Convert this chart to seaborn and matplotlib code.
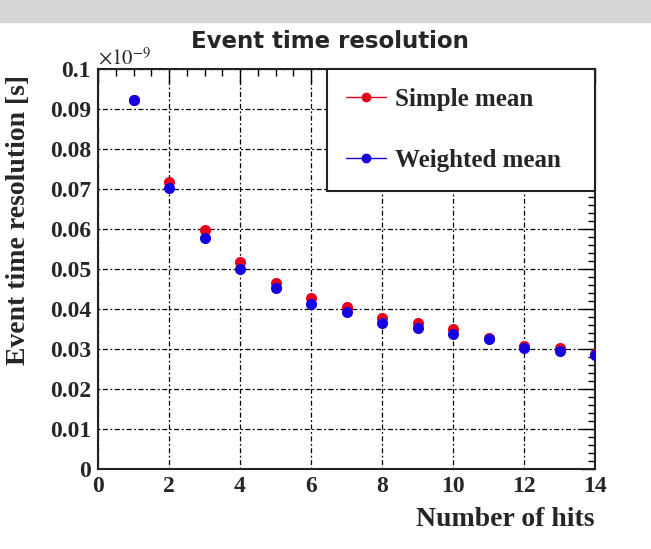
import matplotlib
matplotlib.use("Agg")
import matplotlib.pyplot as plt
from matplotlib.lines import Line2D
from matplotlib.ticker import MultipleLocator, FuncFormatter
import seaborn as sns
import pandas as pd

hits = [1, 2, 3, 4, 5, 6, 7, 8, 9, 10, 11, 12, 13, 14]
simple_mean = [0.0923, 0.0718, 0.0598, 0.0518, 0.0466, 0.0427, 0.0405, 0.0377,
               0.0364, 0.0349, 0.0327, 0.0308, 0.0302, 0.0288]
weighted_mean = [0.0923, 0.0702, 0.0578, 0.0499, 0.0452, 0.0412, 0.0393, 0.0364,
                 0.0352, 0.0338, 0.0324, 0.0303, 0.0296, 0.0286]
series_names = ["Simple mean", "Weighted mean"]
title = "Event time resolution"
xlabel = "Number of hits"
ylabel = "Event time resolution [s]"

sns.set_style("white")
plt.rcParams['font.family'] = ['Liberation Serif', 'DejaVu Serif']
plt.rcParams['mathtext.fontset'] = 'stix'

RED = "#e8001c"
BLUE = "#1400e0"

fig = plt.figure(figsize=(6.51, 5.49), dpi=100)
fig.patches.append(plt.Rectangle((0, 1 - 22/549), 1, 22/549, transform=fig.transFigure,
                                 color="#d6d6d6", zorder=0))
ax = fig.add_axes([98/651, 80/549, 497/651, 400/549])

df_s = pd.DataFrame({"hits": hits, "val": simple_mean})
df_w = pd.DataFrame({"hits": hits, "val": weighted_mean})
sns.lineplot(data=df_s, x="hits", y="val", ax=ax, marker="o", linestyle="",
             color=RED, markersize=8, markeredgewidth=0, zorder=3)
sns.lineplot(data=df_w, x="hits", y="val", ax=ax, marker="o", linestyle="",
             color=BLUE, markersize=8, markeredgewidth=0, zorder=4)

ax.set_xlim(0, 14)
ax.set_ylim(0, 0.1)
ax.xaxis.set_major_locator(MultipleLocator(2))
ax.xaxis.set_minor_locator(MultipleLocator(0.5))
ax.yaxis.set_major_locator(MultipleLocator(0.01))
ax.yaxis.set_minor_locator(MultipleLocator(0.002))
ax.yaxis.set_major_formatter(FuncFormatter(lambda v, p: "%g" % round(v, 4)))
ax.xaxis.set_major_formatter(FuncFormatter(lambda v, p: "%g" % v))

ax.grid(True, which="major", color="black", linestyle=(0, (1.5, 2, 4, 2)), linewidth=0.9)
ax.tick_params(which="both", direction="in", top=True, right=True, color="black",
               labelsize=17, width=1)
ax.tick_params(which="major", length=10, pad=5)
ax.tick_params(which="minor", length=5)
for lab in ax.get_xticklabels() + ax.get_yticklabels():
    lab.set_fontweight("bold")
for s in ax.spines.values():
    s.set_color("#222222")
    s.set_linewidth(1.5)

ax.set_xlabel(xlabel, fontsize=20, fontweight="bold", ha="right")
ax.xaxis.set_label_coords(1.0, -0.095)
ax.set_ylabel(ylabel, fontsize=20, fontweight="bold", ha="right")
ax.yaxis.set_label_coords(-0.135, 0.985)

ax.text(0.0, 1.0, r"$\times10^{-9}$", transform=ax.transAxes, fontsize=15,
        ha="left", va="bottom")
fig.text(330/651, 1 - 48/549, title, fontsize=16.5, fontweight="bold",
         family=["DejaVu Sans"], ha="center", va="baseline")

handles = [Line2D([], [], color=RED, marker="o", markersize=6, linewidth=1),
           Line2D([], [], color=BLUE, marker="o", markersize=6, linewidth=1)]
leg = ax.legend(handles, series_names, loc="upper left",
                bbox_to_anchor=(229/497, 0.0, 268/497, 1.0), mode="expand",
                borderaxespad=0, frameon=True, fancybox=False, framealpha=1,
                edgecolor="#222222", prop={"size": 18, "weight": "bold"},
                handlelength=1.6, handletextpad=0.36, labelspacing=1.5, borderpad=0.76)
leg.get_frame().set_linewidth(1.5)
leg.set_zorder(10)

fig.savefig("out.png", dpi=100)
